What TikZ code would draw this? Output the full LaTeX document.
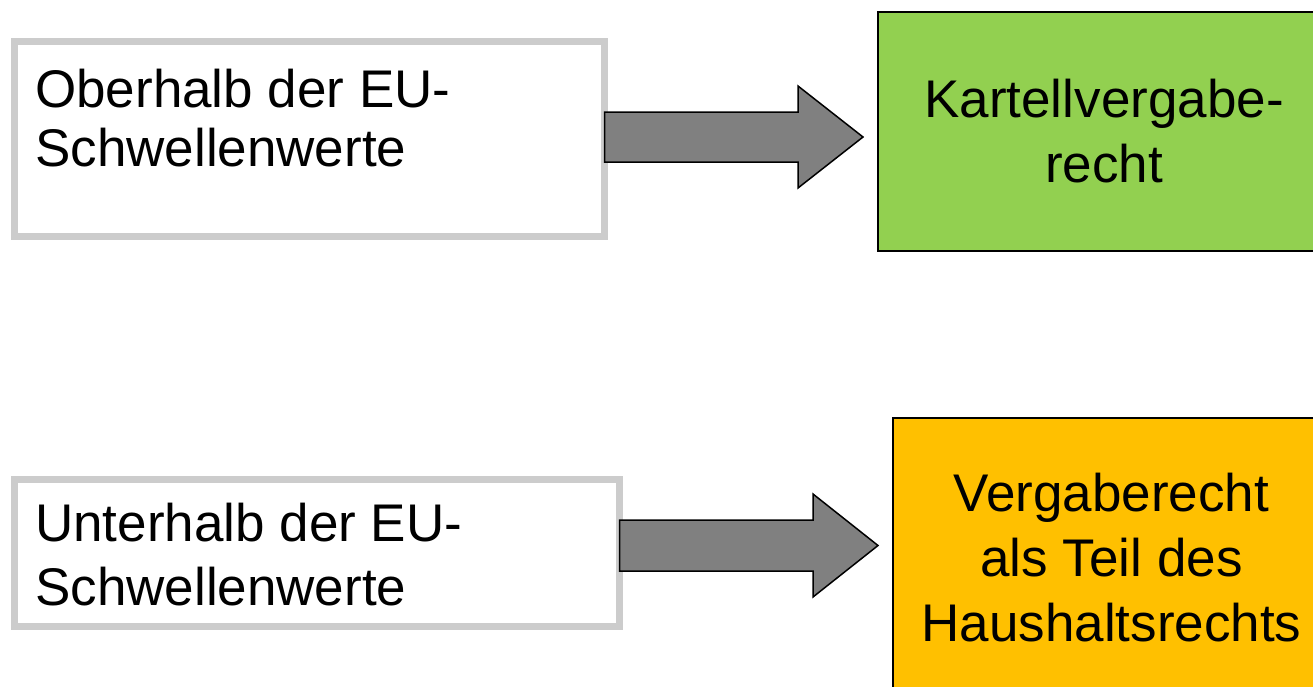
\documentclass[tikz,border=0pt]{standalone}
\usepackage{fontspec}
\setmainfont{Liberation Sans}
\usetikzlibrary{calc}
\definecolor{boxgray}{HTML}{CCCCCC}
\definecolor{arrowgray}{HTML}{808080}
\definecolor{kgreen}{HTML}{92D050}
\definecolor{korange}{HTML}{FFC000}
\begin{document}
\begin{tikzpicture}[x=1pt,y=-1pt,
  srcbox/.style={draw=boxgray, line width=7pt, fill=white, outer sep=0pt, inner sep=0pt},
  dstbox/.style={draw=black, line width=1.8pt, outer sep=0pt, inner sep=0pt,
                 font=\fontsize{53}{65}\selectfont, align=center},
  lbl/.style={align=left, anchor=base west, inner sep=0pt},
  blockarrow/.style={draw=black, line width=1.5pt, fill=arrowgray, line join=miter}]
\useasboundingbox (0,0) rectangle (1313,686);
\clip (0,0) rectangle (1313,686);
% source boxes
\node[srcbox, minimum width=590pt, minimum height=195pt] (b1) at (309.5,139) {};
\node[srcbox, minimum width=605pt, minimum height=147pt] (b2) at (317,553) {};
\node[lbl, font=\fontsize{53}{59}\selectfont] (t1) at (35,166) {Oberhalb der EU-\\Schwellenwerte};
\node[lbl, font=\fontsize{53}{64}\selectfont] (t2) at (35,605) {Unterhalb der EU-\\Schwellenwerte};
% target boxes
\node[dstbox, fill=kgreen, minimum width=452pt, minimum height=239pt] (g1) at (1104,131.5)
  {Kartellvergabe-\\recht};
\node[dstbox, fill=korange, minimum width=437pt, minimum height=280pt] (o1) at (1111.5,558)
  {Vergaberecht\\als Teil des\\Haushaltsrechts};
% arrows
\coordinate (a1s) at ($(b1.east)+(0,-2)$);
\coordinate (a1t) at ($(g1.west)+(-15,5.5)$);
\coordinate (a2s) at ($(b2.east)+(0,-7.5)$);
\coordinate (a2t) at ($(o1.west)+(-15,-12.5)$);
\draw[blockarrow] let \p1=(a1s), \p2=(a1t) in
  (\x1,\y2+25pt) -- (\x2-65pt,\y2+25pt) -- (\x2-65pt,\y2+51pt) -- (\x2,\y2)
  -- (\x2-65pt,\y2-51pt) -- (\x2-65pt,\y2-25pt) -- (\x1,\y2-25pt) -- cycle;
\draw[blockarrow] let \p1=(a2s), \p2=(a2t) in
  (\x1,\y2+25.5pt) -- (\x2-65pt,\y2+25.5pt) -- (\x2-65pt,\y2+51.5pt) -- (\x2,\y2)
  -- (\x2-65pt,\y2-51.5pt) -- (\x2-65pt,\y2-25.5pt) -- (\x1,\y2-25.5pt) -- cycle;
\end{tikzpicture}
\end{document}
